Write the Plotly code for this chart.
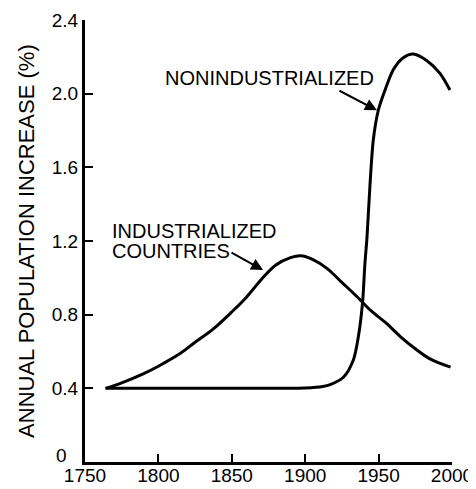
import plotly.graph_objects as go

# Data
years_ind = [1764, 1775, 1790, 1800, 1815, 1825, 1837, 1850, 1860, 1870, 1880, 1890, 1897, 1905, 1915, 1925, 1935, 1945, 1955, 1965, 1975, 1985, 1999]
vals_ind = [0.40, 0.43, 0.48, 0.52, 0.59, 0.65, 0.72, 0.815, 0.895, 0.99, 1.07, 1.11, 1.12, 1.10, 1.05, 0.975, 0.90, 0.82, 0.755, 0.68, 0.615, 0.56, 0.515]

years_non = [1764, 1785, 1805, 1825, 1845, 1865, 1885, 1900, 1912, 1917, 1926, 1932.8, 1936.2, 1939.1, 1940.7, 1942.1, 1944.1, 1946.4, 1949.8, 1954.4, 1960, 1966.8, 1973.6, 1982.7, 1991.8, 1998.6]
vals_non = [0.40, 0.40, 0.40, 0.40, 0.40, 0.40, 0.40, 0.402, 0.41, 0.42, 0.46, 0.554, 0.68, 0.87, 1.08, 1.22, 1.50, 1.75, 1.91, 2.02, 2.13, 2.195, 2.215, 2.18, 2.11, 2.02]

x_ticks = [1750, 1800, 1850, 1900, 1950, 2000]
y_ticks = [0, 0.4, 0.8, 1.2, 1.6, 2.0, 2.4]
y_tick_labels = ["", "0.4", "0.8", "1.2", "1.6", "2.0", "2.4"]
zero_label = "0"

FONT = "Liberation Sans, Arial, Helvetica, sans-serif"

fig = go.Figure()
fig.add_trace(go.Scatter(x=years_ind, y=vals_ind, mode="lines",
                         line=dict(color="black", width=3, shape="spline", smoothing=1.0),
                         showlegend=False, hoverinfo="skip"))
fig.add_trace(go.Scatter(x=years_non, y=vals_non, mode="lines",
                         line=dict(color="black", width=3, shape="spline", smoothing=0.8),
                         showlegend=False, hoverinfo="skip"))

annots = [
    dict(x=1803, y=2.085, text="NONINDUSTRIALIZED", xanchor="left", yanchor="middle"),
    dict(x=1767, y=1.257, text="INDUSTRIALIZED", xanchor="left", yanchor="middle"),
    dict(x=1767, y=1.148, text="COUNTRIES", xanchor="left", yanchor="middle"),
]
for a in annots:
    fig.add_annotation(xref="x", yref="y", showarrow=False,
                       font=dict(family=FONT, size=20, color="black"), **a)

arrows = [
    dict(x=1948.9, y=1.91, ax=1922.3, ay=2.02),
    dict(x=1871.3, y=1.042, ax=1848.8, ay=1.142),
]
for a in arrows:
    fig.add_annotation(xref="x", yref="y", axref="x", ayref="y", text="",
                       showarrow=True, arrowhead=2, arrowsize=1.2, arrowwidth=2,
                       arrowcolor="black", **a)

# "0" label of the y axis, sitting slightly above the x axis as in the reference
fig.add_annotation(xref="paper", yref="y", x=-0.044, y=0.035, text=zero_label,
                   showarrow=False, xanchor="right", yanchor="middle",
                   font=dict(family=FONT, size=19, color="black"))

# y-axis title
fig.add_annotation(xref="paper", yref="paper", x=-0.161, y=0.5,
                   text="ANNUAL POPULATION INCREASE (%)", textangle=-90,
                   showarrow=False, xanchor="center", yanchor="middle",
                   font=dict(family=FONT, size=22, color="black"))

fig.update_layout(
    width=468, height=481,
    margin=dict(l=77, r=24, t=12, b=27),
    paper_bgcolor="white", plot_bgcolor="white",
    font=dict(family=FONT, color="black"),
    xaxis=dict(range=[1750, 2000], tickvals=x_ticks, ticks="inside", ticklen=8,
               tickwidth=2, tickcolor="black", showline=True, linecolor="black",
               linewidth=3, showgrid=False, zeroline=False, automargin=False,
               ticklabelstandoff=-6,
               tickfont=dict(size=19, family=FONT)),
    yaxis=dict(range=[0, 2.4], tickvals=y_ticks, ticktext=y_tick_labels,
               ticks="inside", ticklen=8, tickwidth=2, tickcolor="black",
               showline=True, linecolor="black", linewidth=3, showgrid=False,
               zeroline=False, automargin=False,
               tickfont=dict(size=19, family=FONT)),
)

fig.write_html("out.html")
